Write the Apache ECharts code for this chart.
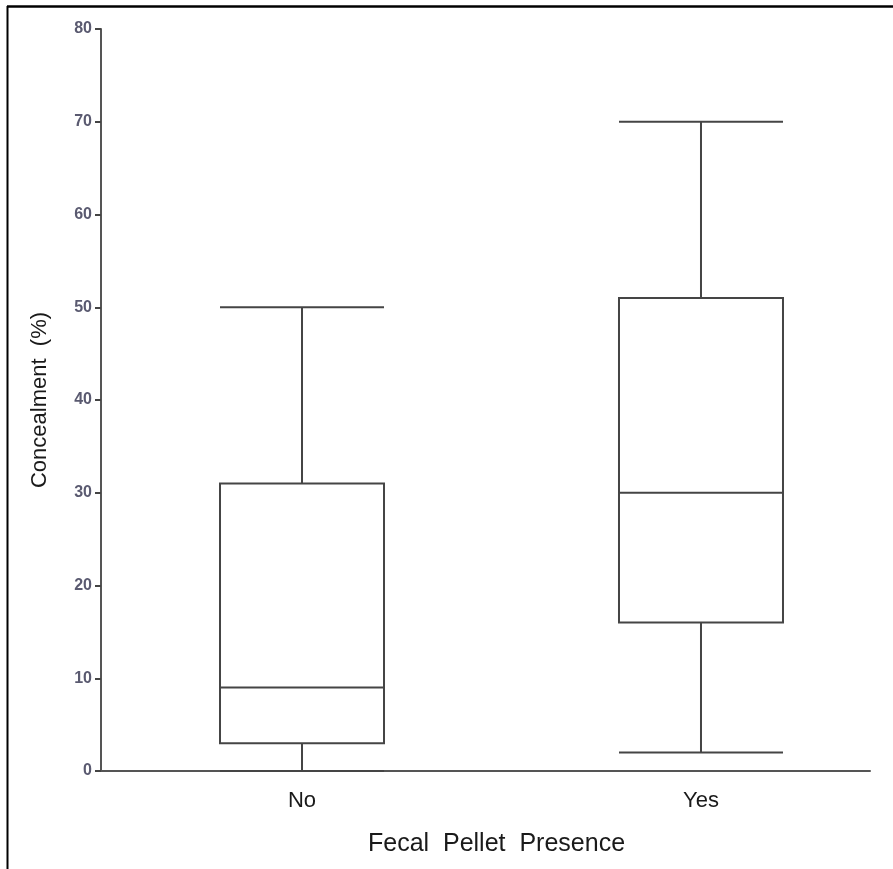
<!DOCTYPE html>
<html>
<head>
<meta charset="utf-8">
<script src="https://cdn.jsdelivr.net/npm/echarts@6/dist/echarts.min.js"></script>
<style>
html,body{margin:0;padding:0;background:#fff;}
#chart{width:893px;height:869px;}
</style>
</head>
<body>
<div id="chart"></div>
<script>
// Data
var categories = ['No', 'Yes'];
var positions = [1, 2];
var mins    = [0, 2];
var q1s     = [3, 16];
var medians = [9, 30];
var q3s     = [31, 51];
var maxs    = [50, 70];
var yTicks  = [0, 10, 20, 30, 40, 50, 60, 70, 80];

var boxData = categories.map(function (c, i) {
  return [positions[i], mins[i], q1s[i], medians[i], q3s[i], maxs[i]];
});

var chart = echarts.init(document.getElementById('chart'), null, {renderer: 'canvas'});
chart.setOption({
  backgroundColor: '#ffffff',
  animation: false,
  grid: {left: 101, right: 23, top: 29, bottom: 98, containLabel: false},
  xAxis: {
    type: 'value',
    min: 0.4962,
    max: 2.4236,
    name: 'Fecal  Pellet  Presence',
    nameLocation: 'middle',
    nameGap: 61,
    nameTextStyle: {fontFamily: 'Liberation Sans, Arial, sans-serif', fontSize: 25, color: '#1a1a1a', padding: [0, 0, 0, 22]},
    axisLine: {show: true, onZero: false, lineStyle: {color: '#555555', width: 2}},
    axisTick: {show: false},
    splitLine: {show: false},
    axisLabel: {
      customValues: positions,
      margin: 19,
      fontFamily: 'Liberation Sans, Arial, sans-serif',
      fontSize: 22,
      color: '#1a1a1a',
      formatter: function (v) {
        var idx = positions.indexOf(Math.round(v));
        return idx >= 0 ? categories[idx] : '';
      }
    }
  },
  yAxis: {
    type: 'value',
    min: 0,
    max: 80,
    interval: 10,
    name: 'Concealment  (%)',
    nameLocation: 'middle',
    nameGap: 50,
    nameTextStyle: {fontFamily: 'Liberation Sans, Arial, sans-serif', fontSize: 22, color: '#1a1a1a'},
    axisLine: {show: true, lineStyle: {color: '#555555', width: 2}},
    axisTick: {show: true, inside: false, length: 6, lineStyle: {color: '#444444', width: 2}},
    splitLine: {show: false},
    axisLabel: {
      margin: 9,
      fontFamily: 'Liberation Sans, Arial, sans-serif',
      fontSize: 16,
      fontWeight: 'bold',
      color: '#5a5a70',
      formatter: function (v) { return yTicks.indexOf(v) >= 0 ? String(v) : ''; }
    }
  },
  series: [{
    type: 'boxplot',
    data: boxData,
    boxWidth: [164, 164],
    itemStyle: {color: '#ffffff', borderColor: '#454545', borderWidth: 2},
    emphasis: {disabled: true}
  }],
  graphic: [
    {type: 'line', shape: {x1: 7, y1: 6.5, x2: 893, y2: 6.5}, style: {stroke: '#000000', lineWidth: 2.5}, silent: true},
    {type: 'line', shape: {x1: 7.5, y1: 6, x2: 7.5, y2: 869}, style: {stroke: '#000000', lineWidth: 2}, silent: true}
  ]
});
</script>
</body>
</html>
